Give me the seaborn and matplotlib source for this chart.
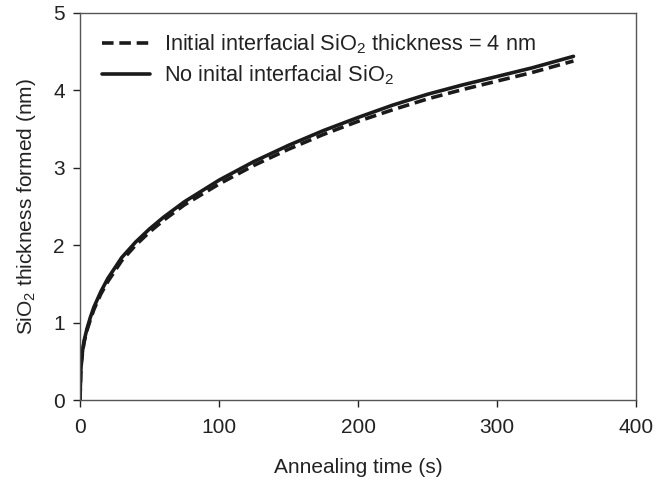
import numpy as np
import pandas as pd
import seaborn as sns
import matplotlib
matplotlib.use("Agg")
import matplotlib.pyplot as plt

# values
time_s = [0, 0.5, 1, 2, 3, 5, 7.5, 10, 15, 20, 30, 40, 50, 60, 75, 100,
          125, 150, 175, 200, 225, 250, 275, 300, 325, 355]
no_initial = [0, 0.35, 0.50, 0.66, 0.77, 0.92, 1.07, 1.20, 1.40, 1.57, 1.84, 2.04,
              2.21, 2.36, 2.56, 2.84, 3.08, 3.29, 3.48, 3.65, 3.81, 3.95, 4.07,
              4.18, 4.29, 4.44]
initial_4nm = [0, 0.33, 0.48, 0.64, 0.75, 0.90, 1.04, 1.17, 1.37, 1.53, 1.80, 2.00,
               2.17, 2.32, 2.52, 2.79, 3.03, 3.24, 3.43, 3.60, 3.75, 3.89, 4.01,
               4.12, 4.23, 4.38]

lbl_dash = r"Initial interfacial SiO$_\mathregular{2}$ thickness = 4 nm"
lbl_solid = r"No inital interfacial SiO$_\mathregular{2}$"

df = pd.concat([
    pd.DataFrame({"t": time_s, "thk": initial_4nm, "case": lbl_dash}),
    pd.DataFrame({"t": time_s, "thk": no_initial, "case": lbl_solid}),
])

sns.set_style("ticks")
plt.rcParams["font.family"] = ["Liberation Sans", "DejaVu Sans"]
plt.rcParams["mathtext.fontset"] = "custom"
plt.rcParams["mathtext.rm"] = "Liberation Sans"
plt.rcParams["mathtext.it"] = "Liberation Sans"

FS = 15
fig = plt.figure(figsize=(6.7, 4.8), dpi=100)
ax = fig.add_axes([80 / 670, 80 / 480, 556 / 670, 387 / 480])

sns.lineplot(data=df, x="t", y="thk", style="case",
             style_order=[lbl_dash, lbl_solid],
             dashes={lbl_dash: (3.2, 1.6), lbl_solid: ""},
             color="#1a1a1a", linewidth=2.6, ax=ax, sort=False)

ax.set_xlim(0, 400)
ax.set_ylim(0, 5)
ax.set_xticks([0, 100, 200, 300, 400])
ax.set_yticks([0, 1, 2, 3, 4, 5])
ax.set_xlabel("Annealing time (s)", fontsize=FS, color="#222222", labelpad=15)
ax.set_ylabel(r"SiO$_\mathregular{2}$ thickness formed (nm)", fontsize=FS,
              color="#222222", labelpad=11)
ax.tick_params(axis="both", labelsize=FS, colors="#222222", length=5,
               width=1, direction="out", top=False, right=False)
ax.tick_params(axis="x", pad=8)
ax.tick_params(axis="y", pad=6)
for s in ax.spines.values():
    s.set_visible(True)
    s.set_color("#555555")
    s.set_linewidth(1)

leg = ax.legend(loc="upper left", frameon=False, fontsize=15.7,
                handlelength=2.2, handletextpad=0.65, labelspacing=0.35,
                borderpad=0, borderaxespad=0,
                bbox_to_anchor=(0.04, 0.95))
leg.set_title(None)
for txt in leg.get_texts():
    txt.set_color("#222222")

fig.savefig("out.png", dpi=100)
